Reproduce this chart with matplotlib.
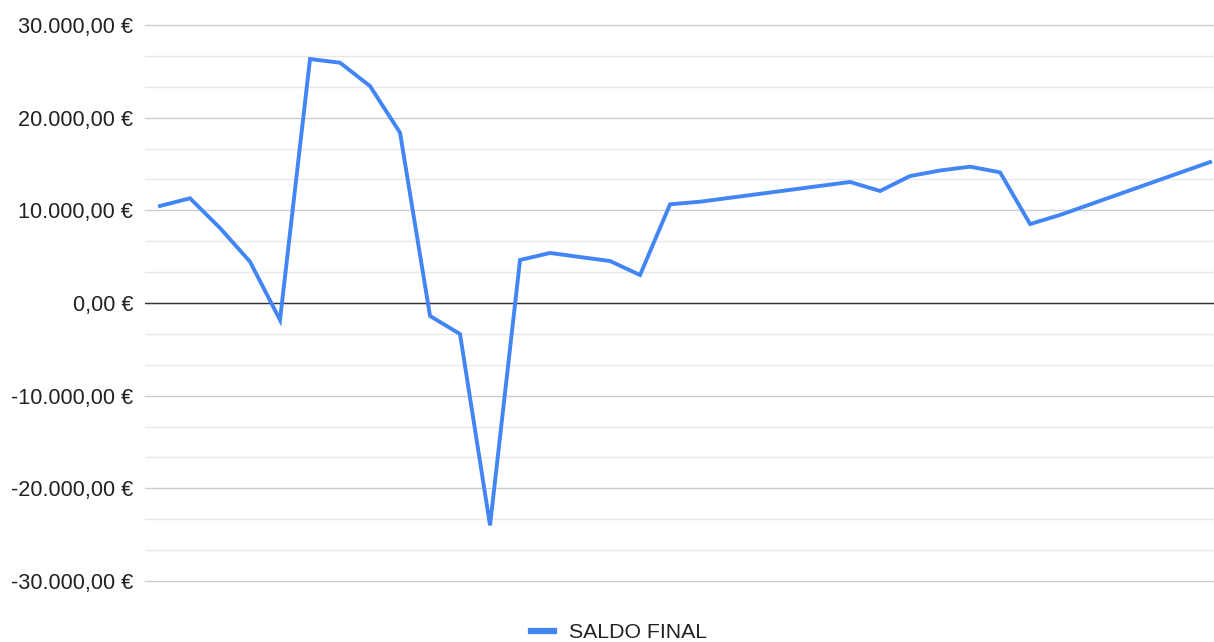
import matplotlib.pyplot as plt
from matplotlib.ticker import FuncFormatter, MultipleLocator

# positions of the rows along the x axis (gaps where the line runs straight)
periodo = [0, 1, 2, 3, 4, 5, 6, 7, 8, 9, 10, 11, 12, 13, 14, 15, 16, 17, 18,
           23, 24, 25, 26, 27, 28, 29, 30, 35]
saldo_final = [10470, 11300, 8090, 4460, -1830, 26330, 25930, 23410, 18380,
               -1400, -3350, -24000, 4640, 5400, 4960, 4530, 3020, 10650, 10930,
               13060, 12090, 13700, 14300, 14710, 14100, 8520, 9500, 15210]
y_ticks = [-30000, -20000, -10000, 0, 10000, 20000, 30000]


def euro(v, pos=None):
    s = f"{abs(v):,.2f}".replace(",", "X").replace(".", ",").replace("X", ".")
    return ("-" if v < 0 else "") + s + " €"


plt.rcParams['font.family'] = ['Liberation Sans', 'DejaVu Sans']

fig = plt.figure(figsize=(12.14, 6.42), dpi=100)
ax = fig.add_axes([145 / 1214, 1 - 581 / 642, 1 - 145 / 1214, 556 / 642])

ax.plot(periodo, saldo_final, color='#4285F4', lw=2.8, label='SALDO FINAL',
        solid_joinstyle='miter', zorder=3)
ax.axhline(0, color='#333333', lw=1.0, zorder=2)

ax.set_xlim(-0.5, 35.13)
ax.set_ylim(-30000, 30000)
ax.set_yticks(y_ticks)
ax.yaxis.set_minor_locator(MultipleLocator(10000 / 3))
ax.yaxis.set_major_formatter(FuncFormatter(euro))
ax.grid(True, which='major', axis='y', color='#cccccc', lw=1.0)
ax.grid(True, which='minor', axis='y', color='#e8e8e8', lw=1.0)
for gl in ax.get_ygridlines():
    gl.set_clip_on(False)
ax.set_axisbelow(True)
ax.set_xticks([])
ax.tick_params(axis='y', which='both', length=0, pad=8.6, labelsize=15.6, labelcolor='#222222')
for s in ax.spines.values():
    s.set_visible(False)

leg = fig.legend(loc='center', bbox_to_anchor=(0.51, 1 - 633 / 642), frameon=False,
                 fontsize=15.3, handlelength=1.1, handletextpad=0.7)
for line in leg.get_lines():
    line.set_linewidth(4.5)
for t in leg.get_texts():
    t.set_color('#222222')

fig.savefig('out.png', dpi=100)
